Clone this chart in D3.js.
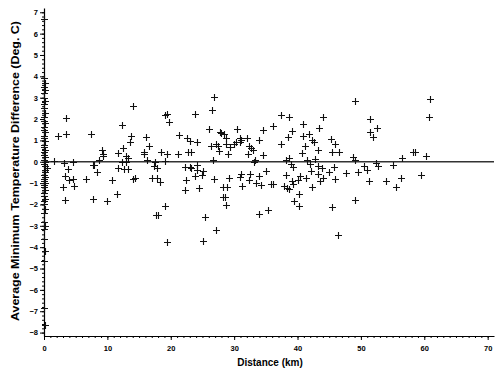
<!DOCTYPE html>
<html>
<head>
<meta charset="utf-8">
<script src="https://cdn.jsdelivr.net/npm/d3@7"></script>
<style>
  body { margin: 0; background: #fff; }
  text { font-family: "Liberation Sans", Arial, sans-serif; }
</style>
</head>
<body>
<svg id="chart" width="500" height="375"></svg>
<script>
// stations at the same site (distance 0)
const zeroSiteDiffs = [6.7, 3.9, 3.7, 3.5, 3.35, 3.2, 3.0, 2.85, 2.7, 2.5, 2.3, 2.1, 1.9, 1.8,
  1.65, 1.5, 1.4, 1.2, 1.1, 0.95, 0.8, 0.7, 0.55, 0.45, 0.3, 0.2, 0.1, 0.0, -0.1, -0.2,
  -0.3, -0.4, -0.5, -0.6, -0.7, -0.8, -0.9, -1.0, -1.1, -1.2, -1.3, -1.45, -1.6, -1.75,
  -1.85, -2.0, -2.2, -2.4, -2.8, -3.0, -3.15, -3.6, -4.2, -4.65, -6.85, -7.65];
const zeroSiteDist = [0, 0, 0.1, 0, 0.1, 0, 0, 0.1, 0, 0, 0.1, 0, 0, 0.1, 0, 0, 0.1, 0, 0,
  0.1, 0, 0, 0.1, 0, 0, 0.1, 0, 0.2, 0, 0.1, 0.4, 0.2, 0.1, 0, 0.1, 0, 0, 0.1, 0, 0, 0.1, 0,
  0, 0.1, 0, 0, 0.1, 0, 0, 0.1, 0, 0, 0.1, 0, 0, 0.1];

// station pairs at distance > 0
const distKm = [1.5, 3.47, 2.2, 3.47, 7.46, 9.1, 9.35, 9.25, 3.15, 4.6, 8.6, 7.7, 7.9, 3.8,
  8.4, 3.26, 4.0, 4.6, 6.7, 10.8, 2.95, 4.8, 3.3, 7.8, 9.9, 11.5, 11.7, 12.4, 12.35, 13.7,
  13.6, 13.0, 13.25, 12.3, 12.9, 11.6, 12.6, 13.2, 14.0, 14.1,
  26.9, 26.5, 19.35, 19.1, 19.8, 23.9, 26.1, 27.7, 28.0, 16.1, 16.5, 15.7, 15.8, 18.5, 19.45,
  21.2, 21.3, 22.6, 23.1, 24.2, 22.7, 23.2, 26.4, 27.2, 27.4, 27.55, 16.3, 17.55, 19.1, 26.7,
  17.35, 17.9, 22.3, 23.0, 23.2, 24.2, 24.2, 25.1, 14.4, 17.0, 17.8, 18.3, 22.4, 23.8, 25.0,
  26.8, 28.3, 22.3, 24.5, 19.1, 17.7, 18.0, 25.35, 27.2, 19.35, 25.1, 28.2,
  37.4, 38.7, 36.1, 40.9, 30.4, 34.6, 39.1, 28.4, 28.7, 30.9, 31.1, 31.0, 32.1, 33.9, 38.5,
  40.9, 41.75, 42.3, 28.7, 29.3, 30.0, 30.3, 32.4, 32.7, 33.0, 37.4, 41.2, 40.7, 29.0, 32.2,
  34.5, 33.3, 33.1, 38.2, 38.7, 38.9, 39.3, 41.5, 41.9, 35.1, 42.1, 31.1, 30.9, 32.5, 32.4,
  33.9, 33.5, 29.2, 38.2, 40.4, 41.4, 39.1, 39.3, 40.1, 34.3, 35.8, 36.1, 31.2, 28.9, 37.9,
  38.4, 38.7, 42.3, 40.2, 39.5, 40.3, 28.5, 28.7, 33.9, 35.4,
  49.1, 44.0, 43.4, 51.5, 52.6, 51.4, 51.9, 42.6, 45.3, 45.85, 43.2, 45.4, 46.6, 42.8, 48.7,
  49.0, 56.5, 43.3, 43.8, 45.7, 44.9, 47.7, 49.5, 50.5, 51.0, 52.4, 52.7, 55.1, 43.3, 44.0,
  43.6, 45.9, 51.3, 53.9, 56.35, 55.6, 49.0, 45.5, 46.4,
  60.9, 60.8, 58.15, 58.6, 60.25, 59.5];
const tempDiff = [0.05, 2.06, 1.22, 1.31, 1.28, 0.53, 0.37, 0.28, -0.06, 0.01, 0.09, -0.16, -0.16, -0.34,
  -0.47, -0.66, -0.84, -0.8, -0.8, -0.84, -1.16, -1.14, -1.78, -1.75, -1.83, -1.52, 0.41, 0.64, 1.73, 1.22,
  0.91, 0.25, 0.17, 0.0, 0.0, -0.3, -0.34, -0.34, 2.6, -0.81,
  3.03, 2.41, 2.25, 2.19, 1.88, 2.22, 1.53, 1.37, 1.34, 1.16, 0.75, 0.47, 0.37, 0.47, 0.37,
  0.37, 1.25, 1.09, 0.97, 0.94, 0.47, 0.47, 0.75, 0.84, 0.72, 0.5, 0.06, 0.0, 0.03, 0.09,
  -0.22, -0.31, -0.25, -0.25, -0.31, -0.16, -0.38, -0.41, -0.78, -0.78, -0.75, -0.97, -0.84, -0.66, -0.63,
  -0.81, -1.16, -1.31, -1.25, -2.06, -2.5, -2.5, -2.6, -3.19, -3.78, -3.69, -1.66,
  2.19, 2.1, 1.66, 1.78, 1.53, 1.5, 1.44, 1.28, 1.13, 1.13, 1.0, 0.94, 1.09, 1.03, 1.16,
  1.22, 1.31, 1.03, 0.84, 0.69, 0.84, 0.91, 0.75, 0.66, 0.53, 0.84, 0.75, 0.41, 0.37, 0.37,
  0.31, 0.09, 0.0, 0.09, 0.16, -0.09, -0.25, 0.06, -0.09, -0.41, -0.44, -0.59, -0.72, -0.56, -0.84,
  -0.69, -1.0, -0.75, -0.63, -0.69, -0.75, -0.88, -1.03, -0.84, -1.09, -1.06, -1.06, -1.13, -1.16, -1.13,
  -1.25, -1.28, -1.19, -1.5, -1.84, -2.06, -1.66, -2.03, -2.44, -2.28,
  2.85, 2.1, 1.56, 2.0, 1.56, 1.37, 1.16, 0.94, 1.06, 0.84, 0.53, 0.47, 0.47, 0.12, 0.22,
  0.06, 0.16, -0.19, -0.31, -0.25, -0.47, -0.53, -0.47, -0.19, -0.38, -0.06, -0.19, -0.16, -0.56, -0.75,
  -0.9, -0.81, -0.88, -0.88, -0.75, -1.19, -1.81, -2.13, -3.41,
  2.94, 2.1, 0.47, 0.47, 0.28, -0.63];

const xTicks = [0, 10, 20, 30, 40, 50, 60, 70];
const yTicks = d3.range(-8, 8);

const svg = d3.select("#chart");
const x = d3.scaleLinear().domain([0, 71]).range([44, 494]);
const y = d3.scaleLinear().domain([-8.16, 7.2]).range([336, 8]);

const points = zeroSiteDiffs.map((v, i) => ({ d: zeroSiteDist[i], v: v }))
  .concat(distKm.map((d, i) => ({ d: d, v: tempDiff[i] })));

// minor ticks
svg.append("g")
  .attr("transform", "translate(0,336)")
  .call(d3.axisBottom(x).tickValues(d3.range(0, 71, 1)).tickSize(2).tickFormat(""))
  .call(g => g.select(".domain").remove());
svg.append("g")
  .attr("transform", "translate(44,0)")
  .call(d3.axisLeft(y).tickValues(d3.range(-8, 7.01, 0.2)).tickSize(2).tickFormat(""))
  .call(g => g.select(".domain").remove());

const xAxis = svg.append("g")
  .attr("transform", "translate(0,336)")
  .call(d3.axisBottom(x).tickValues(xTicks).tickSize(4).tickSizeOuter(0).tickPadding(6));
const yAxis = svg.append("g")
  .attr("transform", "translate(44,0)")
  .call(d3.axisLeft(y).tickValues(yTicks).tickSize(4).tickSizeOuter(0).tickPadding(2));

svg.selectAll(".tick line").attr("stroke", "#000");
svg.selectAll(".domain").attr("stroke", "#000").attr("stroke-width", 1.2);
[xAxis, yAxis].forEach(g => g.selectAll("text")
  .style("font-size", "7.5px").style("font-weight", "bold")
  .style("font-family", "'Liberation Sans', Arial, sans-serif"));

// zero reference line
svg.append("line")
  .attr("x1", x(0)).attr("x2", x(71))
  .attr("y1", y(0)).attr("y2", y(0))
  .attr("stroke", "#333").attr("stroke-width", 1.3);

// crosses
const s = 3.5;
svg.append("g").selectAll("path")
  .data(points)
  .join("path")
  .attr("d", p => {
    const cx = Math.round(x(p.d)) + 0.5, cy = Math.round(y(p.v)) + 0.5;
    return `M${cx - s},${cy}H${cx + s}M${cx},${cy - s}V${cy + s}`;
  })
  .attr("stroke", "#111")
  .attr("stroke-width", 1.1)
  .attr("fill", "none");

svg.append("text")
  .attr("x", 270).attr("y", 366)
  .attr("text-anchor", "middle")
  .style("font-size", "10px").style("font-weight", "bold")
  .text("Distance (km)");

svg.append("text")
  .attr("transform", "translate(19,171) rotate(-90)")
  .attr("text-anchor", "middle")
  .attr("textLength", 300)
  .attr("lengthAdjust", "spacingAndGlyphs")
  .style("font-size", "10.5px").style("font-weight", "bold")
  .text("Average Minimum Temperature Difference (Deg. C)");
</script>
</body>
</html>
